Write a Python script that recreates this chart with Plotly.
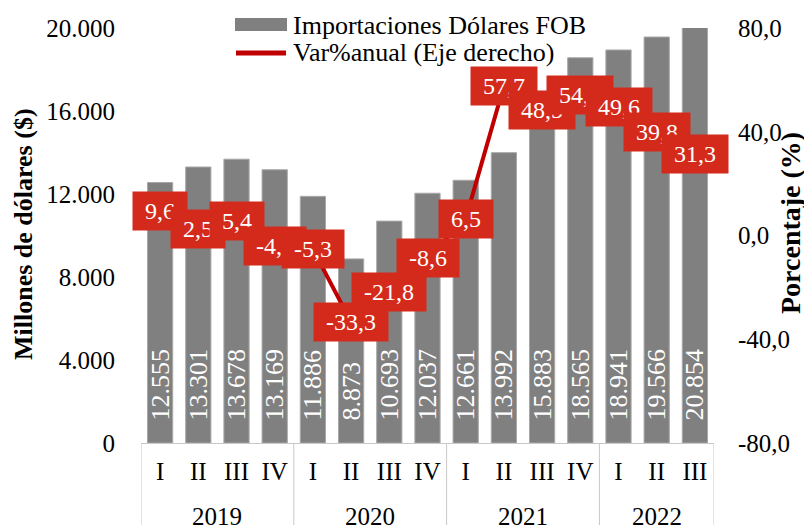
import plotly.graph_objects as go

years = ["2019", "2020", "2021", "2022"]
year_counts = [4, 4, 4, 3]
quarters = ["I", "II", "III", "IV", "I", "II", "III", "IV", "I", "II", "III", "IV", "I", "II", "III"]
imports = [12555, 13301, 13678, 13169, 11886, 8873, 10693, 12037, 12661, 13992, 15883, 18565, 18941, 19566, 20854]
var_pct = [9.6, 2.5, 5.4, -4.2, -5.3, -33.3, -21.8, -8.6, 6.5, 57.7, 48.5, 54.2, 49.6, 39.8, 31.3]
series_names = ["Importaciones Dólares FOB", "Var%anual (Eje derecho)"]
y2_ticks = [-80, -40, 0, 40, 80]
y2_tick_labels = ["-80,0", "-40,0", "0,0", "40,0", "80,0"]

FONT = "Liberation Serif"
BAR_COLOR = "#808080"
LINE_COLOR = "#C00000"
LABEL_BG = "#D42A1B"

W, H = 804, 525
ML, MR, MT, MB = 141, 90, 28, 82
PW, PH = W - ML - MR, H - MT - MB


def px(x):
    return (x - ML) / PW


def py(y):
    return (H - MB - y) / PH


idx = list(range(len(quarters)))
bar_text = ["\u00a0\u00a0\u00a0" + f"{v:,}".replace(",", ".") for v in imports]
var_text = [f"{v:.1f}".replace(".", ",") for v in var_pct]

fig = go.Figure()
fig.add_trace(go.Bar(
    x=idx, y=imports, name=series_names[0],
    marker=dict(color=BAR_COLOR, line=dict(color="#a8a8a8", width=1)),
    text=bar_text, textposition="inside", textangle=-90, insidetextanchor="start",
    textfont=dict(color="white", size=26, family=FONT),
))
fig.add_trace(go.Scatter(
    x=idx, y=var_pct, name=series_names[1], yaxis="y2",
    mode="lines", line=dict(color=LINE_COLOR, width=4),
))

for i, (v, t) in enumerate(zip(var_pct, var_text)):
    fig.add_annotation(x=i, y=v, xref="x", yref="y2", text="\u00a0" + t + "\u00a0", showarrow=False,
                       bgcolor=LABEL_BG, borderpad=6,
                       font=dict(color="white", size=24, family=FONT))

# year labels and group dividers
start = 0
bounds = [-0.5]
for yr, n in zip(years, year_counts):
    center = start + (n - 1) / 2
    fig.add_annotation(x=center, y=py(516), xref="x", yref="paper", text=yr, showarrow=False,
                       font=dict(size=25, family=FONT, color="black"), xanchor="center", yanchor="middle")
    start += n
    bounds.append(start - 0.5)
for b in bounds:
    fig.add_shape(type="line", x0=b, x1=b, y0=0, y1=py(H), xref="x", yref="paper",
                  line=dict(color="#c8c8c8", width=1))

# axis titles
fig.add_annotation(x=px(23), y=py(234), xref="paper", yref="paper", text="<b>Millones de dólares ($)</b>",
                   textangle=-90, showarrow=False, xanchor="center", yanchor="middle",
                   font=dict(size=26, family=FONT, color="black"))
fig.add_annotation(x=px(791), y=py(223), xref="paper", yref="paper", text="<b>Porcentaje (%)</b>",
                   textangle=-90, showarrow=False, xanchor="center", yanchor="middle",
                   font=dict(size=28, family=FONT, color="black"))

# legend (drawn)
fig.add_shape(type="rect", x0=px(235), x1=px(287), y0=py(31), y1=py(18), xref="paper", yref="paper",
              fillcolor=BAR_COLOR, line=dict(width=0))
fig.add_shape(type="line", x0=px(236), x1=px(286), y0=py(53), y1=py(53), xref="paper", yref="paper",
              line=dict(color=LINE_COLOR, width=5))
for name, yy in zip(series_names, [25, 53]):
    fig.add_annotation(x=px(291), y=py(yy), xref="paper", yref="paper", text=name, showarrow=False,
                       xanchor="left", yanchor="middle", font=dict(size=26, family=FONT, color="black"))

fig.update_layout(
    width=W, height=H,
    margin=dict(l=ML, r=MR, t=MT, b=MB, autoexpand=False),
    plot_bgcolor="white", paper_bgcolor="white",
    separators=",.",
    font=dict(family=FONT, size=25, color="black"),
    bargap=0.34,
    uniformtext=dict(mode="show", minsize=26),
    showlegend=False,
    xaxis=dict(range=[-0.5, 14.5], tickmode="array", tickvals=idx, ticktext=quarters,
               showline=True, linecolor="#c8c8c8", showgrid=False, zeroline=False,
               ticks="outside", ticklen=6, tickcolor="rgba(0,0,0,0)", automargin=False,
               tickfont=dict(size=25, family=FONT)),
    yaxis=dict(range=[0, 20000], dtick=4000, tickformat=",d", showgrid=False,
               zeroline=False, ticks="outside", ticklen=20, tickcolor="rgba(0,0,0,0)",
               automargin=False, tickfont=dict(size=25, family=FONT)),
    yaxis2=dict(range=[-80, 80], tickmode="array", tickvals=y2_ticks, ticktext=y2_tick_labels,
                overlaying="y", side="right",
                showgrid=False, zeroline=False, ticks="outside", ticklen=18, automargin=False,
                tickcolor="rgba(0,0,0,0)", tickfont=dict(size=25, family=FONT)),
)

fig.write_html("out.html", config={"displayModeBar": False},
               post_script="document.body.style.margin='0px';")
